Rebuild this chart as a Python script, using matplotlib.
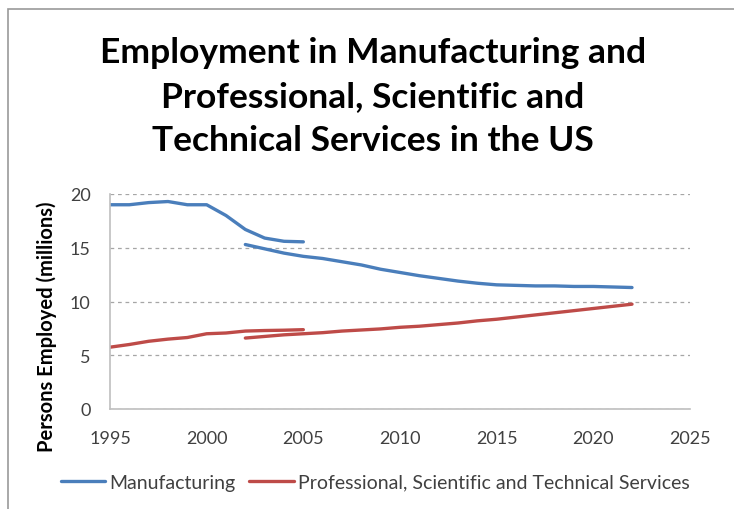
import matplotlib.pyplot as plt
from matplotlib.patches import Rectangle

# manufacturing, old series (1995-2005) and new series (2002-2022)
mfg_years_a = [1995, 1996, 1997, 1998, 1999, 2000, 2001, 2002, 2003, 2004, 2005]
mfg_vals_a = [19.0, 19.0, 19.2, 19.3, 19.0, 19.0, 18.0, 16.7, 15.9, 15.6, 15.55]
mfg_years_b = list(range(2002, 2023))
mfg_vals_b = [15.3, 14.9, 14.5, 14.2, 14.0, 13.7, 13.4, 13.0, 12.7, 12.4, 12.15,
              11.9, 11.7, 11.55, 11.5, 11.45, 11.45, 11.4, 11.4, 11.35, 11.3]

# professional, scientific and technical services
pst_years_a = [1995, 1996, 1997, 1998, 1999, 2000, 2001, 2002, 2003, 2004, 2005]
pst_vals_a = [5.75, 6.0, 6.3, 6.5, 6.65, 7.0, 7.07, 7.25, 7.3, 7.33, 7.38]
pst_years_b = list(range(2002, 2023))
pst_vals_b = [6.6, 6.75, 6.9, 7.0, 7.1, 7.25, 7.35, 7.45, 7.6, 7.7, 7.85,
              8.0, 8.2, 8.35, 8.55, 8.75, 8.95, 9.15, 9.35, 9.55, 9.75]

blue = '#4A7EBB'
red = '#BE4B48'
font = ['Lato', 'DejaVu Sans']

fig = plt.figure(figsize=(7.34, 5.10), dpi=100)
fig.patches.append(Rectangle((8 / 734, -0.1), 1.2, 1 - 10 / 510 + 0.1,
                             transform=fig.transFigure, fill=False,
                             edgecolor='#999999', linewidth=1.2))

ax = fig.add_axes([110 / 734, 1 - 410 / 510, 580 / 734, 215 / 510])

lw = 2.4
ax.plot(mfg_years_a, mfg_vals_a, color=blue, lw=lw, solid_capstyle='round')
ax.plot(mfg_years_b, mfg_vals_b, color=blue, lw=lw, solid_capstyle='round',
        label='Manufacturing')
ax.plot(pst_years_a, pst_vals_a, color=red, lw=lw, solid_capstyle='round')
ax.plot(pst_years_b, pst_vals_b, color=red, lw=lw, solid_capstyle='round',
        label='Professional, Scientific and Technical Services')

ax.set_xlim(1995, 2025)
ax.set_ylim(0, 20)
ax.set_xticks(range(1995, 2026, 5))
ax.set_yticks(range(0, 21, 5))
ax.grid(axis='y', linestyle=(0, (3, 3)), color='#A6A6A6', linewidth=0.9)
ax.set_axisbelow(True)
for s in ['top', 'right']:
    ax.spines[s].set_visible(False)
for s in ['left', 'bottom']:
    ax.spines[s].set_color('#BFBFBF')
    ax.spines[s].set_linewidth(1.2)
ax.tick_params(length=0, labelsize=13, labelcolor='#404040')
ax.tick_params(axis='x', pad=15)
ax.tick_params(axis='y', pad=14)
for lab in ax.get_xticklabels() + ax.get_yticklabels():
    lab.set_family(font)

fig.text(47 / 734, 1 - 327 / 510, 'Persons Employed (millions)', rotation=90,
         ha='center', va='center', fontsize=14.5, fontweight='bold', family=font)

fig.text(373 / 734, 1 - 97 / 510,
         'Employment in Manufacturing and\nProfessional, Scientific and\nTechnical Services in the US',
         ha='center', va='center', fontsize=25.5, fontweight='bold', family=font,
         linespacing=1.45)

ax.legend(loc='center', bbox_to_anchor=((375 - 110) / 580, (410 - 483) / 215),
          ncol=2, frameon=False, prop={'family': font, 'size': 14},
          handlelength=2.3, columnspacing=0.7, handletextpad=0.2,
          labelcolor='#404040')

fig.savefig('out.png', dpi=100)
